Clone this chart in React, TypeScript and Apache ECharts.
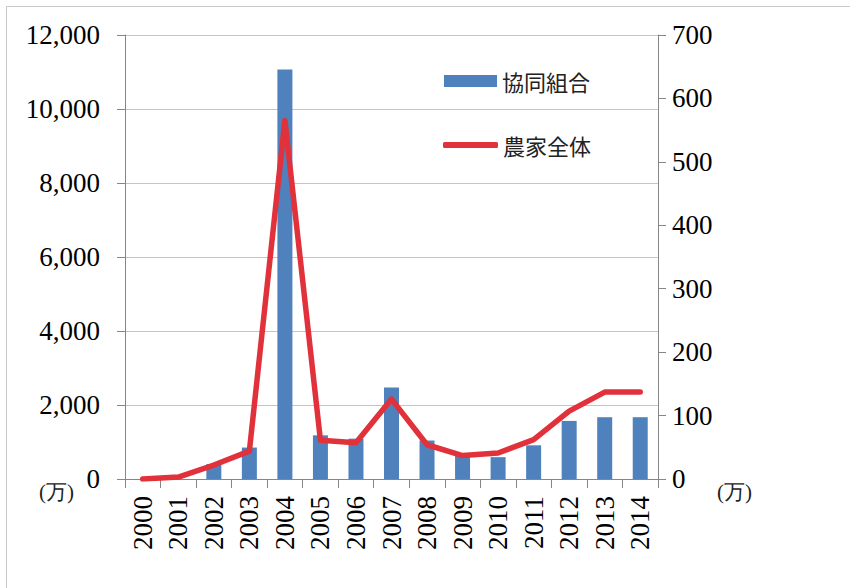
import React, { useEffect, useRef } from "react";
import * as echarts from "echarts";

// Years on the category axis
const years = [
  "2000", "2001", "2002", "2003", "2004", "2005", "2006", "2007",
  "2008", "2009", "2010", "2011", "2012", "2013", "2014",
];

// 協同組合 (left axis, 万)
const coopValues = [
  0, 0, 400, 850, 11070, 1180, 1090, 2470, 1040, 690, 590, 910, 1570, 1670, 1670,
];

// 農家全体 (right axis, 万)
const farmValues = [
  0, 3, 22, 44, 565, 61, 57, 126, 54, 37, 41, 62, 107, 137, 137,
];

const leftTicks = { min: 0, max: 12000, interval: 2000 };
const rightTicks = { min: 0, max: 700, interval: 100 };

const SERIF = "'Liberation Serif', 'Times New Roman', serif";
const SANS = "'Noto Sans CJK JP', 'Noto Sans', sans-serif";
const BLUE = "#4f81bd";
const RED = "#e1313b";
const AXIS_GREY = "#868686";
const GRID_GREY = "#c4c4c4";

export default function App() {
  const ref = useRef<HTMLDivElement>(null);

  useEffect(() => {
    if (!ref.current) return;
    const chart = echarts.init(ref.current, null, { renderer: "svg" });

    chart.setOption({
      animation: false,
      backgroundColor: "#ffffff",
      grid: { left: 125, right: 192, top: 35, bottom: 109 },
      legend: [
        {
          data: [{ name: "協同組合", icon: "rect" }],
          left: 444,
          top: 69,
          padding: 0,
          itemWidth: 53,
          itemHeight: 12,
          textStyle: { fontFamily: SANS, fontSize: 22, lineHeight: 24, color: "#222" },
        },
        {
          data: [{ name: "農家全体", icon: "roundRect" }],
          left: 443,
          top: 133,
          padding: 0,
          itemWidth: 55,
          itemHeight: 6,
          itemStyle: { color: RED },
          textStyle: { fontFamily: SANS, fontSize: 22, lineHeight: 24, color: "#222" },
        },
      ],
      xAxis: {
        type: "category",
        data: years,
        boundaryGap: true,
        axisLine: { lineStyle: { color: AXIS_GREY, width: 1 } },
        axisTick: { show: true, inside: false, length: 9, alignWithLabel: false, lineStyle: { color: AXIS_GREY } },
        axisLabel: {
          interval: 0,
          rotate: 90,
          margin: 17,
          fontFamily: SERIF,
          fontSize: 27,
          color: "#000",
        },
      },
      yAxis: [
        {
          type: "value",
          ...leftTicks,
          axisLine: { show: true, lineStyle: { color: AXIS_GREY } },
          axisTick: { show: true, length: 8, lineStyle: { color: AXIS_GREY } },
          splitLine: { show: true, lineStyle: { color: GRID_GREY, width: 1.2 } },
          axisLabel: {
            margin: 25,
            fontFamily: SERIF,
            fontSize: 27,
            color: "#000",
            formatter: (v: number) => v.toLocaleString("en-US"),
          },
        },
        {
          type: "value",
          ...rightTicks,
          position: "right",
          axisLine: { show: true, lineStyle: { color: AXIS_GREY } },
          axisTick: { show: true, length: 8, lineStyle: { color: AXIS_GREY } },
          splitLine: { show: false },
          axisLabel: {
            margin: 14,
            fontFamily: SERIF,
            fontSize: 27,
            color: "#000",
          },
        },
      ],
      series: [
        {
          name: "協同組合",
          type: "bar",
          yAxisIndex: 0,
          data: coopValues,
          barWidth: 15,
          itemStyle: { color: BLUE },
        },
        {
          name: "農家全体",
          type: "line",
          yAxisIndex: 1,
          data: farmValues,
          symbol: "none",
          showSymbol: false,
          z: 3,
          lineStyle: { color: RED, width: 5.5, cap: "round", join: "round" },
          itemStyle: { color: RED },
        },
      ],
      graphic: [
        {
          type: "rect",
          silent: true,
          z: -1,
          shape: { x: 6.5, y: 6.5, width: 860, height: 600 },
          style: { fill: "none", stroke: "#c8c8c8", lineWidth: 1 },
        },
        {
          type: "text",
          left: 39,
          top: 481,
          style: { text: "(万)", font: `21px ${SERIF}`, fill: "#222" },
        },
        {
          type: "text",
          left: 717,
          top: 481,
          style: { text: "(万)", font: `21px ${SERIF}`, fill: "#222" },
        },
      ],
    });

    return () => chart.dispose();
  }, []);

  return (
    <div
      ref={ref}
      style={{ position: "absolute", left: 0, top: 0, width: 850, height: 588 }}
    />
  );
}
